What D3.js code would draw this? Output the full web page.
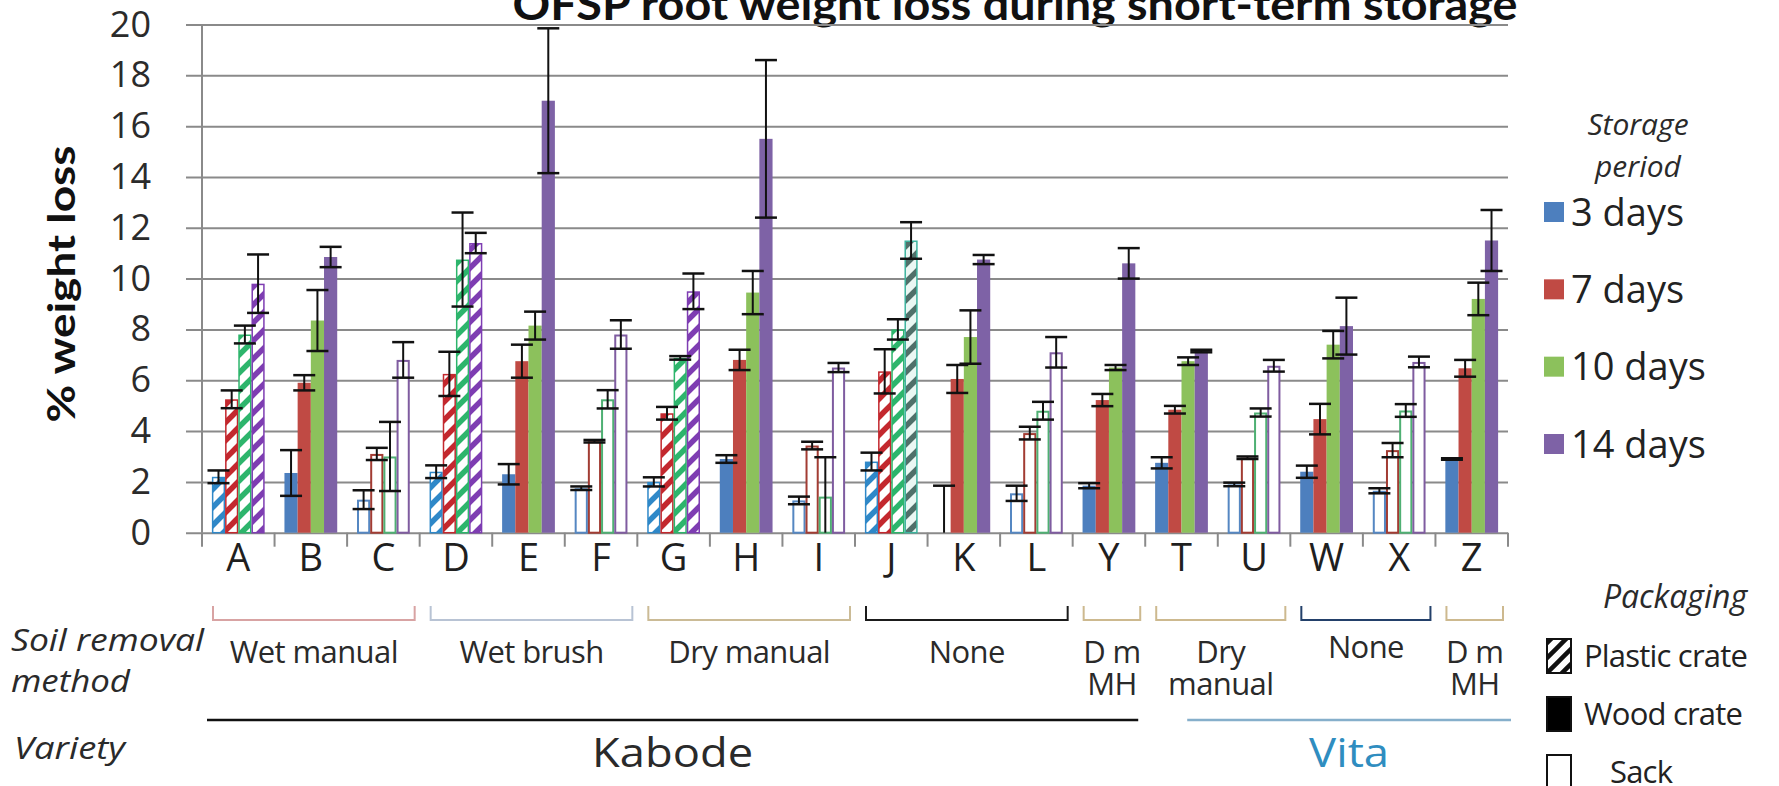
<!DOCTYPE html>
<html>
<head>
<meta charset="utf-8">
<script src="https://cdn.jsdelivr.net/npm/d3@7"></script>
<style>
  html, body { margin: 0; padding: 0; background: #ffffff; }
  svg { display: block; }
</style>
</head>
<body>
<svg id="chart" width="1779" height="786"></svg>
<script>
// ---- data -------------------------------------------------------------
const categories = ["A","B","C","D","E","F","G","H","I","J","K","L","Y","T","U","W","X","Z"];
const packaging = ["Plastic crate","Wood crate","Sack","Plastic crate","Wood crate","Sack",
                   "Plastic crate","Wood crate","Sack","Plastic crate","Wood crate","Sack",
                   "Wood crate","Wood crate","Sack","Wood crate","Sack","Wood crate"];
const seriesNames = ["3 days","7 days","10 days","14 days"];

const days3  = [2.2, 2.35, 1.3, 2.4, 2.3, 1.75, 2.0, 2.9, 1.27, 2.8, 0.0, 1.55, 1.85, 2.75, 1.9, 2.4, 1.65, 2.9];
const err3   = [0.25, 0.9, 0.37, 0.25, 0.4, 0.07, 0.18, 0.15, 0.15, 0.35, 1.85, 0.3, 0.1, 0.22, 0.07, 0.24, 0.1, 0.03];
const days7  = [5.25, 5.9, 3.1, 6.25, 6.75, 3.6, 4.7, 6.8, 3.43, 6.35, 6.05, 3.92, 5.22, 4.84, 2.95, 4.47, 3.25, 6.47];
const err7   = [0.35, 0.3, 0.24, 0.87, 0.65, 0.05, 0.25, 0.4, 0.15, 0.87, 0.55, 0.25, 0.24, 0.15, 0.05, 0.6, 0.28, 0.33];
const days10 = [7.8, 8.35, 3.0, 10.75, 8.15, 5.25, 6.88, 9.45, 1.42, 8.0, 7.7, 4.8, 6.5, 6.75, 4.73, 7.4, 4.81, 9.2];
const err10  = [0.35, 1.2, 1.36, 1.85, 0.55, 0.36, 0.07, 0.85, 1.55, 0.4, 1.05, 0.35, 0.1, 0.15, 0.16, 0.54, 0.25, 0.64];
const days14 = [9.8, 10.85, 6.8, 11.4, 17.0, 7.8, 9.5, 15.5, 6.5, 11.5, 10.75, 7.1, 10.6, 7.15, 6.57, 8.13, 6.72, 11.5];
const err14  = [1.15, 0.4, 0.7, 0.4, 2.85, 0.56, 0.7, 3.1, 0.18, 0.72, 0.18, 0.6, 0.6, 0.05, 0.23, 1.12, 0.21, 1.2];

const yTicks = [0, 2, 4, 6, 8, 10, 12, 14, 16, 18, 20];

const soilGroups = [
  { lines: ["Wet manual"], from: "A", to: "C" },
  { lines: ["Wet brush"],  from: "D", to: "F" },
  { lines: ["Dry manual"], from: "G", to: "I" },
  { lines: ["None"],       from: "J", to: "L" },
  { lines: ["D m", "MH"],  from: "Y", to: "Y" },
  { lines: ["Dry", "manual"], from: "T", to: "U" },
  { lines: ["None"],       from: "W", to: "X" },
  { lines: ["D m", "MH"],  from: "Z", to: "Z" }
];
const varieties = [
  { name: "Kabode", from: "A", to: "Y" },
  { name: "Vita",   from: "T", to: "Z" }
];
const packagingTypes = ["Plastic crate", "Wood crate", "Sack"];

const titleText = "OFSP root weight loss during short-term storage";

// ---- styles -----------------------------------------------------------
const solidColors = ["#4D7FBE", "#C04A44", "#8CC15C", "#7E62A6"];
const hatchColors = ["#2F88C8", "#C3282E", "#2DB56C", "#7E3DB2"];
const sackColors  = ["#5587C2", "#A23C33", "#4FB073", "#7F5CA0"];
const groupColors = ["#D8A3A3", "#B8C3D4", "#CBBB96", "#1B1B1B", "#CDB98F", "#CDB98F", "#23406A", "#CDB98F"];
const varietyLineColors = ["#111111", "#86AFCB"];
const varietyTextColors = ["#2A2A2A", "#2F8DC0"];
// one hatched bar in J carries a teal-grey pattern instead of purple
const hatchOverride = { "J|3": { stripe: "#50706A", edge: "#3DB39E", bg: "#EAF7F3" } };

const FONT = "'Open Sans', 'DejaVu Sans', sans-serif";
const FONT_TITLE = "Lato, 'Open Sans', sans-serif";

// ---- layout -----------------------------------------------------------
const plotLeft = 202, plotRight = 1508, plotTop = 24.5, plotBottom = 532.7;

const svg = d3.select("#chart");
const values = [days3, days7, days10, days14];
const errors = [err3, err7, err10, err14];

const x = d3.scaleBand().domain(categories).range([plotLeft, plotRight]).padding(0);
const xs = d3.scaleBand().domain(d3.range(seriesNames.length))
  .range([0, x.bandwidth()]).paddingInner(0).paddingOuter(0.75);
const y = d3.scaleLinear().domain([0, 20]).range([plotBottom, plotTop]);

// ---- patterns ---------------------------------------------------------
const defs = svg.append("defs");
function makeHatch(id, color, bg, size, width) {
  const p = defs.append("pattern").attr("id", id)
    .attr("patternUnits", "userSpaceOnUse").attr("width", size).attr("height", size);
  p.append("rect").attr("width", size).attr("height", size).attr("fill", bg);
  const h = size / 4;
  p.append("path")
    .attr("d", `M${-h},${h}L${h},${-h}M0,${size}L${size},0M${size - h},${size + h}L${size + h},${size - h}`)
    .attr("stroke", color).attr("stroke-width", width).attr("fill", "none");
}
hatchColors.forEach((c, s) => makeHatch("hatch-" + s, c, "#ffffff", 18, 5.5));
Object.entries(hatchOverride).forEach(([k, o]) => makeHatch("hatch-ov-" + k.replace("|", "-"), o.stripe, o.bg, 18, 5.5));
makeHatch("hatch-legend", "#111111", "#ffffff", 15, 4.5);

// ---- title (runs off the top edge) ------------------------------------
svg.append("text")
  .attr("x", 1015).attr("y", 20)
  .attr("text-anchor", "middle")
  .attr("font-family", FONT_TITLE).attr("font-weight", 700).attr("font-size", 44)
  .attr("fill", "#111")
  .attr("textLength", 1005).attr("lengthAdjust", "spacingAndGlyphs")
  .text(titleText);

// ---- gridlines & y axis ----------------------------------------------
const gridG = svg.append("g").attr("transform", `translate(186,0)`);
gridG.call(d3.axisLeft(y).tickValues(yTicks).tickSizeInner(-(plotRight - 186)).tickSizeOuter(0).tickPadding(35));
gridG.select(".domain").remove();
gridG.selectAll(".tick line").attr("stroke", "#8A8A8A").attr("stroke-width", 2);
gridG.selectAll(".tick text")
  .attr("font-family", FONT).attr("font-size", 36).attr("fill", "#2b2b2b");

svg.append("line")
  .attr("x1", plotLeft).attr("x2", plotLeft)
  .attr("y1", y(20)).attr("y2", y(0))
  .attr("stroke", "#8A8A8A").attr("stroke-width", 2);

// category boundary ticks
const bounds = categories.map(c => x(c)).concat([x(categories[categories.length - 1]) + x.bandwidth()]);
svg.append("g").selectAll("line").data(bounds).join("line")
  .attr("x1", d => d).attr("x2", d => d)
  .attr("y1", y(0)).attr("y2", y(0) + 14)
  .attr("stroke", "#8A8A8A").attr("stroke-width", 2);

svg.append("text")
  .attr("transform", `translate(60,284) rotate(-90)`)
  .attr("text-anchor", "middle").attr("dominant-baseline", "central")
  .attr("font-family", FONT_TITLE).attr("font-weight", 700).attr("font-size", 38)
  .attr("fill", "#111")
  .attr("textLength", 277).attr("lengthAdjust", "spacingAndGlyphs")
  .text("% weight loss");

// ---- bars --------------------------------------------------------------
const barData = [];
seriesNames.forEach((name, s) => {
  categories.forEach((c, i) => {
    barData.push({ c, i, s, v: values[s][i], e: errors[s][i], pack: packaging[i] });
  });
});

const bw = xs.bandwidth();
const barG = svg.append("g");
barData.forEach(d => {
  const x0 = x(d.c) + xs(d.s);
  const yTop = y(d.v), hgt = y(0) - y(d.v);
  if (hgt <= 0) return;
  if (d.pack === "Plastic crate") {
    const ov = hatchOverride[d.c + "|" + d.s];
    barG.append("rect")
      .attr("x", x0 + 0.75).attr("y", yTop + 0.75)
      .attr("width", bw - 1.5).attr("height", Math.max(0, hgt - 0.75))
      .attr("fill", ov ? `url(#hatch-ov-${d.c}-${d.s})` : `url(#hatch-${d.s})`)
      .attr("stroke", ov ? ov.edge : hatchColors[d.s]).attr("stroke-width", 1.5);
  } else if (d.pack === "Wood crate") {
    barG.append("rect")
      .attr("x", x0).attr("y", yTop)
      .attr("width", bw).attr("height", hgt)
      .attr("fill", solidColors[d.s]);
  } else {
    barG.append("rect")
      .attr("x", x0 + 1).attr("y", yTop + 1)
      .attr("width", bw - 2).attr("height", Math.max(0, hgt - 1))
      .attr("fill", "#ffffff")
      .attr("stroke", sackColors[d.s]).attr("stroke-width", 2);
  }
});

// ---- error bars --------------------------------------------------------
const errG = svg.append("g").attr("stroke", "#111").attr("fill", "none");
const capHalf = 11;
barData.forEach(d => {
  const cx = x(d.c) + xs(d.s) + bw / 2;
  const hi = Math.min(20, d.v + d.e), lo = Math.max(0, d.v - d.e);
  errG.append("line").attr("x1", cx).attr("x2", cx)
    .attr("y1", y(hi)).attr("y2", y(lo)).attr("stroke-width", 2);
  if (d.v + d.e <= 20) errG.append("line")
    .attr("x1", cx - capHalf).attr("x2", cx + capHalf)
    .attr("y1", y(d.v + d.e)).attr("y2", y(d.v + d.e)).attr("stroke-width", 2.5);
  if (d.v - d.e >= 0) errG.append("line")
    .attr("x1", cx - capHalf).attr("x2", cx + capHalf)
    .attr("y1", y(d.v - d.e)).attr("y2", y(d.v - d.e)).attr("stroke-width", 2.5);
});

// ---- category letters --------------------------------------------------
svg.append("g").selectAll("text").data(categories).join("text")
  .attr("x", d => x(d) + x.bandwidth() / 2)
  .attr("y", 571)
  .attr("text-anchor", "middle")
  .attr("font-family", FONT).attr("font-size", 38).attr("fill", "#1f1f1f")
  .text(d => d);

// ---- soil removal brackets & labels -----------------------------------
const brG = svg.append("g");
soilGroups.forEach((g, k) => {
  const x1 = x(g.from) + 11, x2 = x(g.to) + x.bandwidth() - 5;
  brG.append("path")
    .attr("d", `M${x1},606V620H${x2}V606`)
    .attr("fill", "none").attr("stroke", groupColors[k]).attr("stroke-width", 2);
  const cx = (x1 + x2) / 2;
  const base = k === 6 ? 658 : 663;
  g.lines.forEach((ln, j) => {
    brG.append("text")
      .attr("x", cx).attr("y", base + j * 32)
      .attr("text-anchor", "middle")
      .attr("font-family", FONT).attr("font-size", 31).attr("fill", "#2a2a2a")
      .attr("letter-spacing", -0.6)
      .text(ln);
  });
});

// row captions on the left
const capG = svg.append("g")
  .attr("font-family", FONT).attr("font-style", "italic").attr("font-size", 31).attr("fill", "#2a2a2a");
capG.append("text").attr("x", 11).attr("y", 651).attr("textLength", 193).attr("lengthAdjust", "spacingAndGlyphs").text("Soil removal");
capG.append("text").attr("x", 11).attr("y", 692).attr("textLength", 119).attr("lengthAdjust", "spacingAndGlyphs").text("method");
capG.append("text").attr("x", 14).attr("y", 759).attr("textLength", 111).attr("lengthAdjust", "spacingAndGlyphs").text("Variety");

// ---- varieties ----------------------------------------------------------
const varietyTextWidths = [161, 80];
varieties.forEach((v, k) => {
  const x1 = k === 0 ? x(v.from) + 5 : x(v.from) + 42;
  const x2 = k === 0 ? x(v.to) + x.bandwidth() - 7 : x(v.to) + x.bandwidth() + 3;
  svg.append("line")
    .attr("x1", x1).attr("x2", x2).attr("y1", 720).attr("y2", 720)
    .attr("stroke", varietyLineColors[k]).attr("stroke-width", 2.5);
  svg.append("text")
    .attr("x", (x1 + x2) / 2).attr("y", 767)
    .attr("text-anchor", "middle")
    .attr("font-family", FONT).attr("font-size", 40).attr("fill", varietyTextColors[k])
    .attr("textLength", varietyTextWidths[k]).attr("lengthAdjust", "spacingAndGlyphs")
    .text(v.name);
});

// ---- storage period legend ----------------------------------------------
const lg = d3.scalePoint().domain(seriesNames).range([212, 444]);
const legG = svg.append("g");
legG.append("text").attr("x", 1638).attr("y", 135).attr("text-anchor", "middle")
  .attr("font-family", FONT).attr("font-style", "italic").attr("font-size", 30).attr("fill", "#2a2a2a")
  .text("Storage");
legG.append("text").attr("x", 1638).attr("y", 177).attr("text-anchor", "middle")
  .attr("font-family", FONT).attr("font-style", "italic").attr("font-size", 30).attr("fill", "#2a2a2a")
  .text("period");
seriesNames.forEach((n, s) => {
  legG.append("rect")
    .attr("x", 1544).attr("y", lg(n) - 10).attr("width", 20).attr("height", 20)
    .attr("fill", solidColors[s]);
  legG.append("text")
    .attr("x", 1571).attr("y", lg(n)).attr("dy", "0.36em")
    .attr("font-family", FONT).attr("font-size", 38).attr("fill", "#222")
    .text(n);
});

// ---- packaging legend -----------------------------------------------------
const pk = d3.scalePoint().domain(packagingTypes).range([656, 772]);
const pkG = svg.append("g");
pkG.append("text").attr("x", 1675).attr("y", 608).attr("text-anchor", "middle")
  .attr("font-family", FONT).attr("font-style", "italic").attr("font-size", 32).attr("fill", "#2a2a2a")
  .text("Packaging");
packagingTypes.forEach((p, k) => {
  const cy = pk(p);
  const r = pkG.append("rect")
    .attr("x", 1547).attr("y", cy - 17).attr("width", 24).attr("height", 34)
    .attr("stroke", "#111").attr("stroke-width", 2);
  if (k === 0) r.attr("fill", "url(#hatch-legend)");
  else if (k === 1) r.attr("fill", "#000");
  else r.attr("fill", "#fff");
  pkG.append("text")
    .attr("x", k === 2 ? 1610 : 1584).attr("y", cy).attr("dy", "0.36em")
    .attr("font-family", FONT).attr("font-size", 31).attr("fill", "#222")
    .attr("letter-spacing", -0.8)
    .text(p);
});
</script>
</body>
</html>
